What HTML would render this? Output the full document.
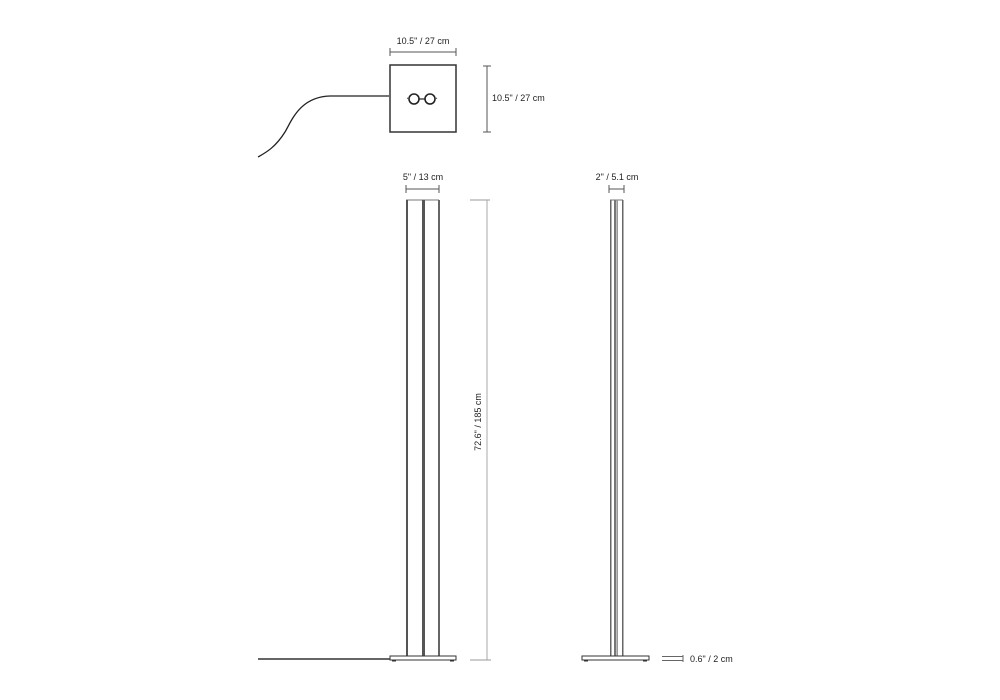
<!DOCTYPE html>
<html><head><meta charset="utf-8"><style>
html,body{margin:0;padding:0;background:#fff;}
svg{display:block;}
text{font-family:"Liberation Sans",sans-serif;font-size:9px;fill:#222;}
</style></head><body>
<svg width="1000" height="700" viewBox="0 0 1000 700" xmlns="http://www.w3.org/2000/svg">
<!-- top view -->
<text x="423" y="44" text-anchor="middle">10.5" / 27 cm</text>
<g stroke="#555" stroke-width="1" fill="none">
<line x1="390" y1="52" x2="456" y2="52"/><line x1="390" y1="48" x2="390" y2="56"/><line x1="456" y1="48" x2="456" y2="56"/>
<line x1="487" y1="66" x2="487" y2="132"/><line x1="483" y1="66" x2="491" y2="66"/><line x1="483" y1="132" x2="491" y2="132"/>
</g>
<rect x="390" y="65" width="66" height="67" fill="#fff" stroke="#333" stroke-width="1.5"/>
<circle cx="414" cy="99" r="5" fill="none" stroke="#222" stroke-width="1.6"/>
<circle cx="430" cy="99" r="5" fill="none" stroke="#222" stroke-width="1.6"/>
<line x1="419" y1="99" x2="425" y2="99" stroke="#222" stroke-width="1.2"/>
<line x1="407" y1="98" x2="409" y2="99" stroke="#555"/><line x1="435" y1="99" x2="437" y2="98" stroke="#555"/>
<text x="492" y="101">10.5" / 27 cm</text>
<path d="M389 96 L330 96 C300 97 292 120 285 132 C275 148 265 153 258 157" fill="none" stroke="#222" stroke-width="1.3"/>

<!-- left lamp -->
<text x="423" y="180" text-anchor="middle">5" / 13 cm</text>
<g stroke="#555" stroke-width="1" fill="none">
<line x1="406" y1="189" x2="439" y2="189"/><line x1="406" y1="185" x2="406" y2="193"/><line x1="439" y1="185" x2="439" y2="193"/>
<line x1="470" y1="200" x2="490" y2="200" stroke="#999"/><line x1="487" y1="200" x2="487" y2="660" stroke="#aaa"/><line x1="470" y1="660" x2="491" y2="660" stroke="#999"/>
</g>
<line x1="406" y1="200" x2="439" y2="200" stroke="#777"/>
<rect x="406" y="200" width="2" height="456" fill="#555"/>
<rect x="422" y="200" width="3" height="456" fill="#555"/>
<rect x="438" y="200" width="2" height="456" fill="#666"/>
<line x1="258" y1="659" x2="391" y2="659" stroke="#333" stroke-width="1.5"/>
<rect x="390" y="656" width="66" height="4" fill="#fff" stroke="#333" stroke-width="1"/>
<rect x="392" y="660" width="4" height="1.5" fill="#333"/><rect x="450" y="660" width="4" height="1.5" fill="#333"/>
<text transform="translate(481,422) rotate(-90)" text-anchor="middle">72.6" / 185 cm</text>

<!-- right lamp -->
<text x="617" y="180" text-anchor="middle">2" / 5.1 cm</text>
<g stroke="#555" stroke-width="1" fill="none">
<line x1="609" y1="189" x2="624" y2="189"/><line x1="609" y1="185" x2="609" y2="193"/><line x1="624" y1="185" x2="624" y2="193"/>
</g>
<line x1="610" y1="200" x2="623" y2="200" stroke="#777"/>
<rect x="610" y="200" width="1.5" height="456" fill="#666"/>
<rect x="614" y="200" width="2.5" height="456" fill="#777"/>
<rect x="617" y="200" width="1" height="456" fill="#999"/>
<rect x="622" y="200" width="1.5" height="456" fill="#666"/>
<rect x="582" y="656" width="67" height="4" fill="#fff" stroke="#333" stroke-width="1"/>
<rect x="584" y="660" width="4" height="1.5" fill="#333"/><rect x="643" y="660" width="4" height="1.5" fill="#333"/>
<g stroke="#666" stroke-width="1"><line x1="662" y1="656.5" x2="683" y2="656.5"/><line x1="662" y1="660.5" x2="683" y2="660.5"/><line x1="683" y1="655" x2="683" y2="662"/></g>
<text x="690" y="662">0.6" / 2 cm</text>
</svg>
</body></html>
